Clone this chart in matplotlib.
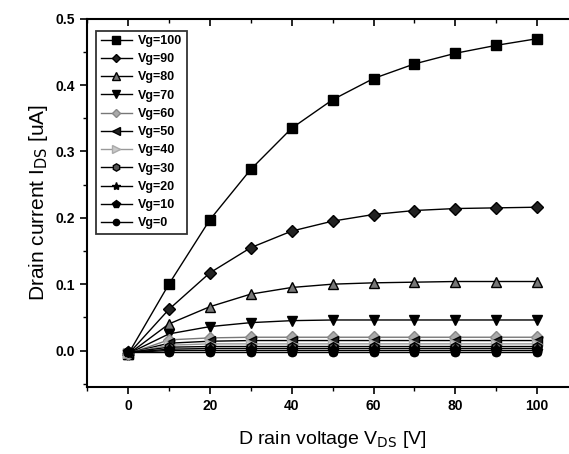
import matplotlib
matplotlib.use("Agg")
import matplotlib.pyplot as plt
from matplotlib.ticker import MultipleLocator

vds = [0, 10, 20, 30, 40, 50, 60, 70, 80, 90, 100]
labels = ["Vg=100", "Vg=90", "Vg=80", "Vg=70", "Vg=60", "Vg=50",
          "Vg=40", "Vg=30", "Vg=20", "Vg=10", "Vg=0"]
ids_100 = [-0.006, 0.100, 0.197, 0.273, 0.335, 0.378, 0.410, 0.432, 0.448, 0.460, 0.470]
ids_90 = [-0.006, 0.062, 0.117, 0.155, 0.180, 0.195, 0.205, 0.211, 0.214, 0.215, 0.216]
ids_80 = [-0.006, 0.040, 0.066, 0.085, 0.095, 0.100, 0.102, 0.103, 0.104, 0.104, 0.104]
ids_70 = [-0.005, 0.025, 0.036, 0.042, 0.045, 0.046, 0.046, 0.046, 0.046, 0.046, 0.046]
ids_60 = [-0.005, 0.016, 0.019, 0.020, 0.020, 0.020, 0.020, 0.020, 0.020, 0.020, 0.020]
ids_50 = [-0.004, 0.011, 0.014, 0.015, 0.015, 0.015, 0.015, 0.015, 0.015, 0.015, 0.015]
ids_40 = [-0.004, 0.008, 0.010, 0.010, 0.010, 0.010, 0.010, 0.010, 0.010, 0.010, 0.010]
ids_30 = [-0.003, 0.005, 0.006, 0.006, 0.006, 0.006, 0.006, 0.006, 0.006, 0.006, 0.006]
ids_20 = [-0.003, 0.002, 0.003, 0.003, 0.003, 0.003, 0.003, 0.003, 0.003, 0.003, 0.003]
ids_10 = [-0.003, 0.000, 0.000, 0.000, 0.000, 0.000, 0.000, 0.000, 0.000, 0.000, 0.000]
ids_0 = [-0.002, -0.002, -0.002, -0.002, -0.002, -0.002, -0.002, -0.002, -0.002, -0.002, -0.002]

series = [ids_100, ids_90, ids_80, ids_70, ids_60, ids_50, ids_40, ids_30, ids_20, ids_10, ids_0]
markers = ["s", "D", "^", "v", "D", "<", ">", "h", "*", "p", "o"]
msizes = [7.5, 6, 7.5, 7.5, 6, 7, 7, 7, 8, 8, 6]
mfaces = ["black", "#222222", "#777777", "black", "#aaaaaa", "#222222",
          "#c8c8c8", "#555555", "black", "black", "black"]
medges = ["black", "black", "black", "black", "#888888", "black",
          "#aaaaaa", "black", "black", "black", "black"]
lcolors = ["black", "black", "black", "black", "#777777", "black",
           "#999999", "black", "black", "black", "black"]

plt.rcParams["font.family"] = ["Liberation Sans", "DejaVu Sans"]

fig = plt.figure(figsize=(5.69, 4.54), dpi=100)
ax = fig.add_axes([0.153, 0.1476, 0.863, 0.811])

for y, lab, m, ms, fc, ec, lc in zip(series, labels, markers, msizes, mfaces, medges, lcolors):
    ax.plot(vds, y, marker=m, markersize=ms, markerfacecolor=fc, markeredgecolor=ec,
            color=lc, linewidth=1.0, label=lab)

ax.set_xlim(-10, 110)
ax.set_ylim(-0.055, 0.5)
ax.xaxis.set_major_locator(MultipleLocator(20))
ax.xaxis.set_minor_locator(MultipleLocator(10))
ax.yaxis.set_minor_locator(MultipleLocator(0.05))
ax.set_yticks([0.0, 0.1, 0.2, 0.3, 0.4, 0.5])
ax.set_yticklabels(["0.0", "0.1", "0.2", "0.3", "0.4", "0.5"])

ax.tick_params(axis="both", which="major", direction="out", length=5, width=1.2,
               labelsize=10)
ax.tick_params(axis="both", which="minor", direction="out", length=3, width=1.0)
ax.tick_params(axis="x", which="both", top=True)
for t in ax.xaxis.get_major_ticks() + ax.xaxis.get_minor_ticks():
    t.tick2line.set_marker(3)  # inward tick on top spine
for lbl in ax.get_xticklabels() + ax.get_yticklabels():
    lbl.set_fontweight("bold")
for s in ax.spines.values():
    s.set_linewidth(1.5)
ax.spines["right"].set_visible(False)

ax.set_xlabel(r"D rain voltage V$_{\rm DS}$ [V]", fontsize=14, labelpad=12)
ax.set_ylabel(r"Drain current I$_{\rm DS}$ [uA]", fontsize=15, labelpad=4)

leg = ax.legend(loc="upper left", bbox_to_anchor=(0.006, 0.985), fontsize=9,
                frameon=True, fancybox=False, edgecolor="black", handlelength=2.5,
                labelspacing=0.5, borderpad=0.35, handletextpad=0.5, markerscale=0.75)
leg.get_frame().set_linewidth(1.3)
for t in leg.get_texts():
    t.set_fontweight("bold")

fig.savefig("out.png", dpi=100)
